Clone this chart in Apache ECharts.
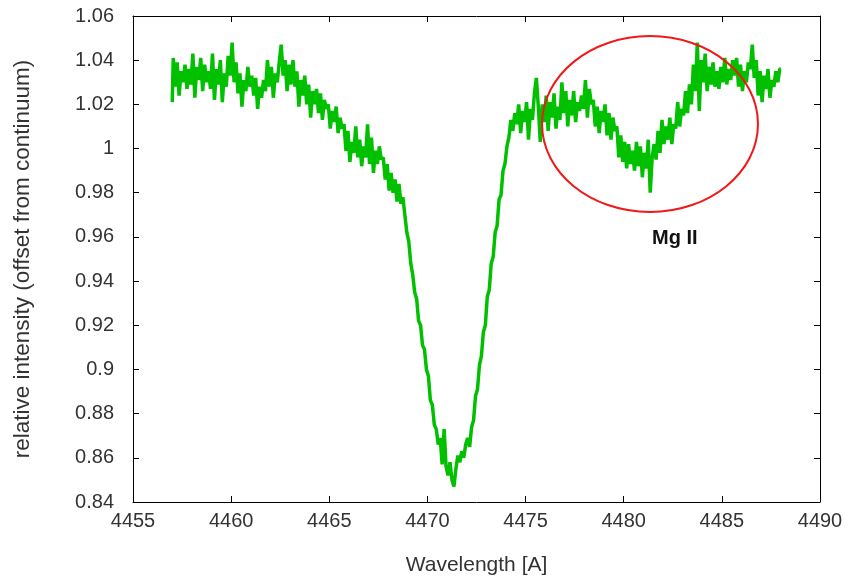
<!DOCTYPE html>
<html>
<head>
<meta charset="utf-8">
<script src="https://cdn.jsdelivr.net/npm/echarts@6/dist/echarts.min.js"></script>
<style>
html,body{margin:0;padding:0;background:#fff;}
#c{width:853px;height:577px;}
</style>
</head>
<body>
<div id="c"></div>
<script>
// Wavelength grid (Angstrom), 0.1 A sampling
const wavelengths = [
4457.0,4457.1,4457.2,4457.3,4457.4,4457.5,4457.6,4457.7,4457.8,4457.9,
4458.0,4458.1,4458.2,4458.3,4458.4,4458.5,4458.6,4458.7,4458.8,4458.9,
4459.0,4459.1,4459.2,4459.3,4459.4,4459.5,4459.6,4459.7,4459.8,4459.9,
4460.0,4460.1,4460.2,4460.3,4460.4,4460.5,4460.6,4460.7,4460.8,4460.9,
4461.0,4461.1,4461.2,4461.3,4461.4,4461.5,4461.6,4461.7,4461.8,4461.9,
4462.0,4462.1,4462.2,4462.3,4462.4,4462.5,4462.6,4462.7,4462.8,4462.9,
4463.0,4463.1,4463.2,4463.3,4463.4,4463.5,4463.6,4463.7,4463.8,4463.9,
4464.0,4464.1,4464.2,4464.3,4464.4,4464.5,4464.6,4464.7,4464.8,4464.9,
4465.0,4465.1,4465.2,4465.3,4465.4,4465.5,4465.6,4465.7,4465.8,4465.9,
4466.0,4466.1,4466.2,4466.3,4466.4,4466.5,4466.6,4466.7,4466.8,4466.9,
4467.0,4467.1,4467.2,4467.3,4467.4,4467.5,4467.6,4467.7,4467.8,4467.9,
4468.0,4468.1,4468.2,4468.3,4468.4,4468.5,4468.6,4468.7,4468.8,4468.9,
4469.0,4469.1,4469.2,4469.3,4469.4,4469.5,4469.6,4469.7,4469.8,4469.9,
4470.0,4470.1,4470.2,4470.3,4470.4,4470.5,4470.6,4470.7,4470.8,4470.9,
4471.0,4471.1,4471.2,4471.3,4471.4,4471.5,4471.6,4471.7,4471.8,4471.9,
4472.0,4472.1,4472.2,4472.3,4472.4,4472.5,4472.6,4472.7,4472.8,4472.9,
4473.0,4473.1,4473.2,4473.3,4473.4,4473.5,4473.6,4473.7,4473.8,4473.9,
4474.0,4474.1,4474.2,4474.3,4474.4,4474.5,4474.6,4474.7,4474.8,4474.9,
4475.0,4475.1,4475.2,4475.3,4475.4,4475.5,4475.6,4475.7,4475.8,4475.9,
4476.0,4476.1,4476.2,4476.3,4476.4,4476.5,4476.6,4476.7,4476.8,4476.9,
4477.0,4477.1,4477.2,4477.3,4477.4,4477.5,4477.6,4477.7,4477.8,4477.9,
4478.0,4478.1,4478.2,4478.3,4478.4,4478.5,4478.6,4478.7,4478.8,4478.9,
4479.0,4479.1,4479.2,4479.3,4479.4,4479.5,4479.6,4479.7,4479.8,4479.9,
4480.0,4480.1,4480.2,4480.3,4480.4,4480.5,4480.6,4480.7,4480.8,4480.9,
4481.0,4481.1,4481.2,4481.3,4481.4,4481.5,4481.6,4481.7,4481.8,4481.9,
4482.0,4482.1,4482.2,4482.3,4482.4,4482.5,4482.6,4482.7,4482.8,4482.9,
4483.0,4483.1,4483.2,4483.3,4483.4,4483.5,4483.6,4483.7,4483.8,4483.9,
4484.0,4484.1,4484.2,4484.3,4484.4,4484.5,4484.6,4484.7,4484.8,4484.9,
4485.0,4485.1,4485.2,4485.3,4485.4,4485.5,4485.6,4485.7,4485.8,4485.9,
4486.0,4486.1,4486.2,4486.3,4486.4,4486.5,4486.6,4486.7,4486.8,4486.9,
4487.0,4487.1,4487.2,4487.3,4487.4,4487.5,4487.6,4487.7,4487.8,4487.9,
4488.0
];

// Relative intensity
const intensity = [
1.021,1.041,1.028,1.039,1.024,1.035,1.030,1.038,1.027,1.036,
1.029,1.043,1.023,1.037,1.031,1.041,1.026,1.038,1.030,1.035,
1.027,1.043,1.022,1.036,1.029,1.040,1.021,1.034,1.028,1.042,
1.033,1.048,1.030,1.039,1.025,1.034,1.019,1.031,1.026,1.037,
1.028,1.033,1.024,1.032,1.018,1.028,1.023,1.031,1.026,1.040,
1.028,1.037,1.023,1.034,1.030,1.039,1.047,1.033,1.040,1.026,
1.038,1.029,1.040,1.028,1.035,1.019,1.031,1.024,1.033,1.020,
1.029,1.014,1.026,1.020,1.027,1.016,1.025,1.013,1.022,1.018,
1.020,1.009,1.017,1.012,1.019,1.007,1.014,1.009,1.011,0.999,
1.008,0.994,1.003,0.998,1.010,0.996,1.004,0.992,1.001,0.996,
1.011,0.993,1.005,0.989,0.999,0.993,1.001,0.995,0.996,0.986,
0.993,0.981,0.989,0.980,0.986,0.976,0.984,0.975,0.978,0.970,
0.962,0.958,0.948,0.943,0.935,0.932,0.922,0.920,0.911,0.909,
0.900,0.897,0.886,0.884,0.875,0.873,0.866,0.869,0.857,0.873,
0.856,0.852,0.858,0.850,0.847,0.855,0.861,0.858,0.863,0.860,
0.866,0.869,0.865,0.874,0.877,0.888,0.891,0.902,0.906,0.917,
0.920,0.933,0.936,0.948,0.951,0.962,0.965,0.977,0.979,0.990,
0.993,1.001,1.005,1.013,1.008,1.016,1.011,1.020,1.007,1.017,
1.012,1.021,1.004,1.018,1.013,1.025,1.032,1.019,1.003,1.020,
1.012,1.024,1.008,1.021,1.014,1.025,1.009,1.019,1.013,1.030,
1.016,1.026,1.010,1.022,1.015,1.026,1.012,1.021,1.017,1.024,
1.018,1.031,1.014,1.027,1.020,1.022,1.010,1.019,1.007,1.017,
1.012,1.020,1.006,1.016,1.004,1.014,1.008,1.010,0.996,1.006,
0.994,1.003,0.991,1.002,0.993,0.999,0.990,1.003,0.992,1.001,
0.987,0.998,0.991,1.004,0.980,0.996,1.002,0.995,1.008,0.998,
1.013,1.002,1.010,1.004,1.014,1.002,1.011,1.009,1.021,1.010,
1.018,1.015,1.026,1.016,1.029,1.020,1.038,1.026,1.048,1.017,
1.040,1.030,1.043,1.026,1.037,1.029,1.039,1.028,1.035,1.027,
1.037,1.030,1.041,1.029,1.036,1.031,1.040,1.033,1.041,1.028,
1.038,1.026,1.035,1.030,1.039,1.036,1.047,1.032,1.040,1.024,
1.035,1.021,1.033,1.027,1.036,1.023,1.031,1.028,1.035,1.030,
1.036
];

// Axis settings
const xMin = 4455, xMax = 4490, xStep = 5;
const yMin = 0.84, yMax = 1.06, yStep = 0.02;
const xTitle = 'Wavelength [A]';
const yTitle = 'relative intensity (offset from continuum)';

// Annotation (ellipse around Mg II line, in data units) and label
const ellipseCenter = [4481.34, 1.0111];
const ellipseRadius = [5.5, 0.0398];
const annotationText = 'Mg II';
const annotationPos = [4482.6, 0.9595];

const points = wavelengths.map((w, i) => [w, intensity[i]]);

const FONT = '"Liberation Sans", Arial, sans-serif';
const textColor = '#333';
const axisCommon = {
  axisLine: { show: true, onZero: false, lineStyle: { color: '#000', width: 1 } },
  axisTick: { show: true, inside: true, length: 6, lineStyle: { color: '#000', width: 1 } },
  splitLine: { show: false }
};

const chart = echarts.init(document.getElementById('c'), null, { renderer: 'canvas' });
chart.setOption({
  animation: false,
  backgroundColor: '#fff',
  grid: { left: 133, right: 33, top: 16, bottom: 75, containLabel: false, outerBoundsMode: 'none' },
  xAxis: [
    Object.assign({
      type: 'value', min: xMin, max: xMax, interval: xStep, position: 'bottom',
      name: xTitle, nameLocation: 'middle', nameGap: 53,
      nameTextStyle: { fontFamily: FONT, fontSize: 21, color: textColor },
      axisLabel: { fontFamily: FONT, fontSize: 20, color: textColor, margin: 9,
        formatter: v => String(v) }
    }, axisCommon),
    Object.assign({
      type: 'value', min: xMin, max: xMax, interval: xStep, position: 'top',
      axisLabel: { show: false }
    }, axisCommon)
  ],
  yAxis: [
    Object.assign({
      type: 'value', min: yMin, max: yMax, interval: yStep, position: 'left',
      name: yTitle, nameLocation: 'middle', nameGap: 99, nameRotate: 90,
      nameTextStyle: { fontFamily: FONT, fontSize: 22.5, color: textColor },
      axisLabel: { fontFamily: FONT, fontSize: 20, color: textColor, margin: 19,
        formatter: v => String(+v.toFixed(2)) }
    }, axisCommon),
    Object.assign({
      type: 'value', min: yMin, max: yMax, interval: yStep, position: 'right',
      axisLabel: { show: false }
    }, axisCommon)
  ],
  series: [{
    type: 'line',
    xAxisIndex: 0, yAxisIndex: 0,
    data: points,
    step: 'middle',
    showSymbol: false,
    symbol: 'none',
    lineStyle: { color: '#00c000', width: 3.5 },
    itemStyle: { color: '#00c000' },
    clip: true
  }]
});

const c = chart.convertToPixel({ gridIndex: 0 }, ellipseCenter);
const e = chart.convertToPixel({ gridIndex: 0 }, [ellipseCenter[0] + ellipseRadius[0], ellipseCenter[1] + ellipseRadius[1]]);
const t = chart.convertToPixel({ gridIndex: 0 }, annotationPos);
chart.setOption({
  graphic: [
    { type: 'ellipse', shape: { cx: c[0], cy: c[1], rx: Math.abs(e[0] - c[0]), ry: Math.abs(e[1] - c[1]) },
      style: { fill: null, stroke: '#f01818', lineWidth: 2 }, z: 10 },
    { type: 'text', x: t[0], y: t[1],
      style: { text: annotationText, fill: '#111', font: 'bold 20px ' + FONT, align: 'center', verticalAlign: 'middle' }, z: 10 }
  ]
});
</script>
</body>
</html>
